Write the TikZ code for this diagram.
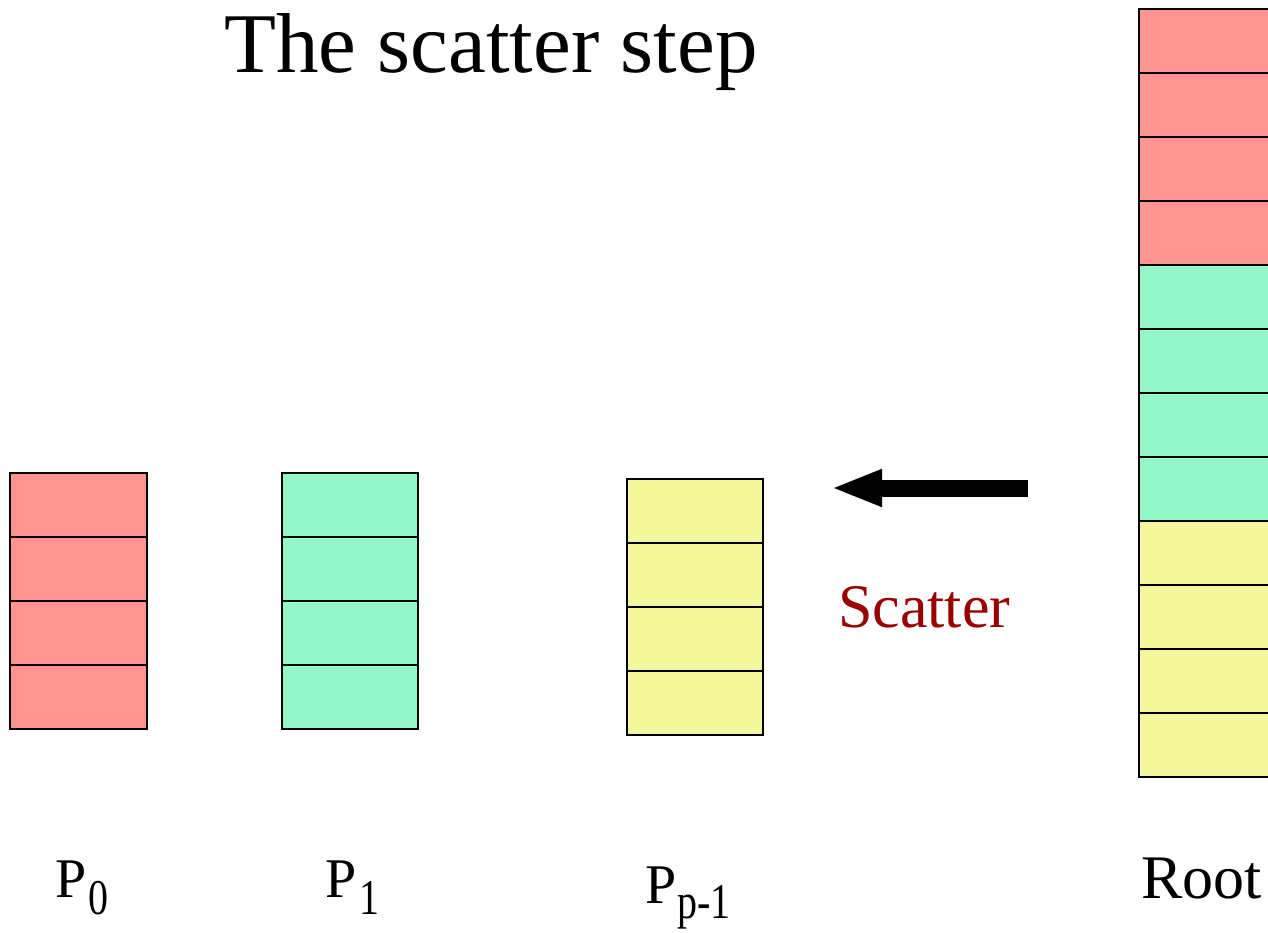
\documentclass[tikz,border=0pt]{standalone}
\usepackage{fontspec}
\setmainfont{Liberation Serif}
\usetikzlibrary{arrows.meta}
\definecolor{cred}{RGB}{255,148,145}
\definecolor{cgreen}{RGB}{148,248,198}
\definecolor{cyellow}{RGB}{243,247,153}
\definecolor{darkred}{RGB}{153,0,0}
\tikzset{
  cell/.style={draw=black, line width=1.5pt},
  lbl/.style={inner sep=0pt, anchor=base west, font=\fontsize{56}{60}\selectfont},
  sub/.style={inner sep=0pt, anchor=base west, font=\fontsize{40}{44}\selectfont},
}
\newcommand{\tallsub}[1]{\scalebox{1}[1.25]{#1}}
\begin{document}
\begin{tikzpicture}[x=1pt,y=-1pt]
\useasboundingbox (0,0) rectangle (1268,932);
% P0 column
\foreach \i in {0,...,3} {
  \draw[cell, fill=cred] (10,473+64*\i) rectangle (147,537+64*\i);
}
% P1 column
\foreach \i in {0,...,3} {
  \draw[cell, fill=cgreen] (282,473+64*\i) rectangle (418,537+64*\i);
}
% Pp-1 column
\foreach \i in {0,...,3} {
  \draw[cell, fill=cyellow] (627,479+64*\i) rectangle (763,543+64*\i);
}
% Root column
\foreach \i in {0,...,3} {
  \draw[cell, fill=cred] (1139,9+64*\i) rectangle (1290,73+64*\i);
}
\foreach \i in {4,...,7} {
  \draw[cell, fill=cgreen] (1139,9+64*\i) rectangle (1290,73+64*\i);
}
\foreach \i in {8,...,11} {
  \draw[cell, fill=cyellow] (1139,9+64*\i) rectangle (1290,73+64*\i);
}
% arrow
\coordinate (astart) at (1028,488);
\coordinate (aend) at (831,488);
\draw[line width=17pt, -{Triangle[width=34pt,length=51pt]}] (astart) -- (aend);
% texts
\node[inner sep=0pt, anchor=base west, font=\fontsize{85}{90}\selectfont] (title) at (224,72) {The scatter step};
\node[inner sep=0pt, anchor=base west, text=darkred, font=\fontsize{62}{66}\selectfont] (scat) at (838,627) {Scatter};
\node[lbl] (P0) at (55,897) {P};
\node[sub] (s0) at (88,914) {\tallsub{0}};
\node[lbl] (P1) at (325,897) {P};
\node[sub] (s1) at (359,914) {\tallsub{1}};
\node[lbl] (Pp) at (645,903) {P};
\node[sub] (sp) at (677,918) {\tallsub{p-1}};
\node[inner sep=0pt, anchor=base west, font=\fontsize{62}{66}\selectfont] (root) at (1141,898) {Root};
\end{tikzpicture}
\end{document}
